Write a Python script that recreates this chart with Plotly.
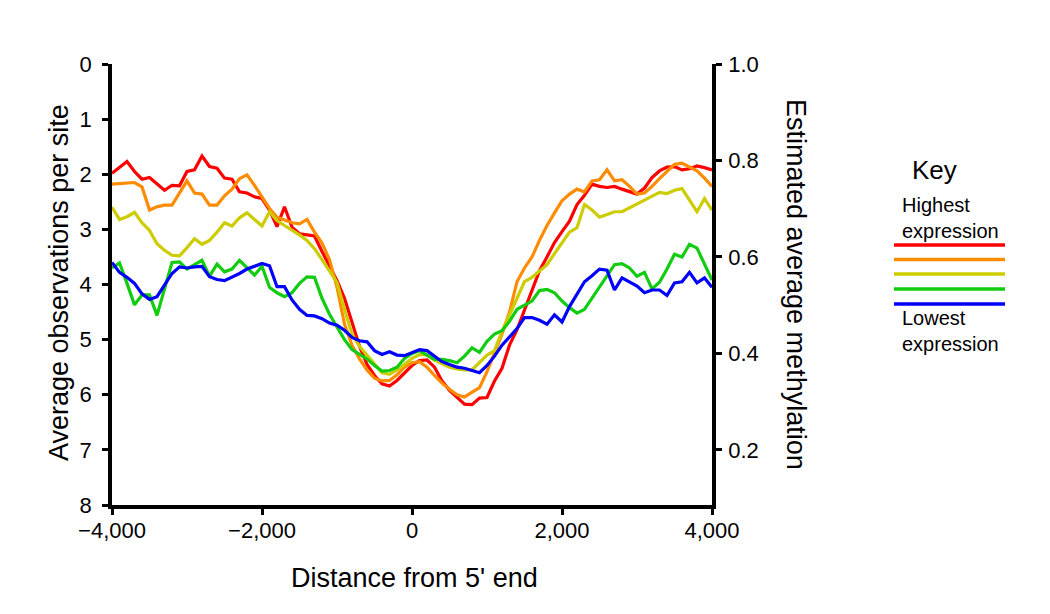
import plotly.graph_objects as go

distance = list(range(-4000, 4001, 100))

highest = [1.98, 1.87, 1.77, 1.95, 2.09, 2.06, 2.18, 2.29, 2.20, 2.21,
           1.95, 1.92, 1.67, 1.86, 1.89, 2.07, 2.09, 2.32, 2.34, 2.41,
           2.44, 2.65, 2.95, 2.59, 2.96, 3.08, 3.10, 3.12, 3.40, 3.68,
           3.93, 4.25, 4.70, 5.12, 5.45, 5.65, 5.80, 5.84, 5.74, 5.60,
           5.47, 5.38, 5.37, 5.50, 5.75, 5.92, 6.04, 6.17, 6.18, 6.06,
           6.05, 5.75, 5.52, 5.10, 4.82, 4.45, 4.08, 3.75, 3.50, 3.24,
           3.04, 2.85, 2.55, 2.38, 2.18, 2.22, 2.24, 2.22, 2.27, 2.31,
           2.36, 2.25, 2.06, 1.94, 1.87, 1.86, 1.92, 1.90, 1.85, 1.88,
           1.92]

high = [2.18, 2.17, 2.17, 2.15, 2.23, 2.65, 2.59, 2.56, 2.56, 2.33,
        2.12, 2.34, 2.36, 2.56, 2.56, 2.39, 2.27, 2.08, 2.01, 2.20,
        2.40, 2.62, 2.78, 2.83, 2.88, 2.90, 2.82, 3.05, 3.25, 3.55,
        4.05, 4.72, 5.10, 5.35, 5.55, 5.70, 5.75, 5.74, 5.64, 5.50,
        5.42, 5.40, 5.50, 5.65, 5.79, 5.90, 6.00, 6.04, 5.95, 5.87,
        5.58, 5.25, 4.90, 4.50, 3.95, 3.70, 3.50, 3.20, 2.93, 2.70,
        2.48, 2.36, 2.27, 2.32, 2.12, 2.10, 1.92, 2.12, 2.10, 2.22,
        2.36, 2.34, 2.22, 2.08, 1.94, 1.82, 1.80, 1.87, 1.94, 2.07,
        2.22]

middle = [2.60, 2.82, 2.77, 2.69, 2.88, 3.02, 3.26, 3.38, 3.47, 3.48,
          3.33, 3.17, 3.27, 3.20, 3.05, 2.88, 2.94, 2.79, 2.70, 2.83,
          2.94, 2.68, 2.84, 2.93, 3.01, 3.10, 3.20, 3.35, 3.55, 3.75,
          3.96, 4.45, 4.90, 5.12, 5.28, 5.45, 5.60, 5.63, 5.55, 5.45,
          5.34, 5.27, 5.28, 5.37, 5.43, 5.50, 5.53, 5.55, 5.55, 5.41,
          5.28, 5.20, 4.85, 4.55, 4.25, 3.95, 3.87, 3.75, 3.64, 3.44,
          3.25, 3.05, 2.97, 2.55, 2.65, 2.78, 2.73, 2.68, 2.68, 2.61,
          2.53, 2.47, 2.40, 2.33, 2.35, 2.29, 2.26, 2.48, 2.68, 2.44,
          2.65]

low = [3.70, 3.61, 3.98, 4.37, 4.19, 4.19, 4.56, 4.07, 3.60, 3.59,
       3.72, 3.64, 3.56, 3.85, 3.63, 3.77, 3.72, 3.56, 3.70, 3.83,
       3.67, 4.05, 4.15, 4.22, 4.15, 3.98, 3.86, 3.87, 4.25, 4.54,
       4.77, 5.00, 5.18, 5.26, 5.35, 5.47, 5.57, 5.56, 5.50, 5.34,
       5.25, 5.20, 5.28, 5.36, 5.36, 5.38, 5.42, 5.30, 5.15, 5.23,
       5.03, 4.90, 4.84, 4.67, 4.45, 4.38, 4.30, 4.11, 4.09, 4.15,
       4.30, 4.42, 4.52, 4.45, 4.25, 4.05, 3.85, 3.64, 3.62, 3.70,
       3.85, 3.78, 4.08, 3.96, 3.72, 3.45, 3.50, 3.27, 3.34, 3.62,
       3.92]

lowest = [3.60, 3.78, 3.87, 3.98, 4.17, 4.27, 4.22, 4.01, 3.80, 3.68,
          3.70, 3.68, 3.67, 3.86, 3.91, 3.93, 3.87, 3.80, 3.72, 3.67,
          3.62, 3.66, 4.04, 4.04, 4.28, 4.45, 4.56, 4.57, 4.62, 4.70,
          4.74, 4.83, 4.96, 5.02, 5.04, 5.20, 5.27, 5.22, 5.28, 5.29,
          5.24, 5.18, 5.20, 5.30, 5.40, 5.45, 5.50, 5.52, 5.56, 5.60,
          5.47, 5.30, 5.10, 4.95, 4.80, 4.60, 4.60, 4.65, 4.72, 4.55,
          4.68, 4.40, 4.18, 3.95, 3.84, 3.72, 3.74, 4.10, 3.88, 3.95,
          4.03, 4.15, 4.10, 4.10, 4.20, 3.97, 3.95, 3.78, 3.97, 3.88,
          4.05]

series = [highest, high, middle, low, lowest]
colors = ["#ff0000", "#ff8c00", "#cccc00", "#11cc11", "#0000ff"]

left_ticks = [0, 1, 2, 3, 4, 5, 6, 7, 8]
right_ticks = [0.2, 0.4, 0.6, 0.8, 1.0]
right_labels = ["0.2", "0.4", "0.6", "0.8", "1.0"]
x_ticks = [-4000, -2000, 0, 2000, 4000]
x_labels = ["\u22124,000", "\u22122,000", "0", "2,000", "4,000"]

FONT = "Liberation Sans, Arial, Helvetica, sans-serif"
OFF = 8  # page body margin
W, H = 1050 - OFF, 614 - OFF
L, R, T, B = 112, 712, 64, 505  # plot area in page pixels


def px(x):
    return (x - L) / (R - L)


def py(y):
    return (B - y) / (B - T)


fig = go.Figure()
for vals, c in zip(series, colors):
    fig.add_trace(go.Scatter(x=distance, y=vals, mode="lines",
                             line=dict(color=c, width=3.2),
                             showlegend=False, hoverinfo="skip"))
fig.add_trace(go.Scatter(x=[None], y=[None], yaxis="y2", showlegend=False,
                         hoverinfo="skip"))

axis_common = dict(showline=True, linecolor="black", linewidth=3.5,
                   ticks="outside", ticklen=6, tickwidth=3, tickcolor="black",
                   showgrid=False, zeroline=False,
                   tickfont=dict(family=FONT, size=22, color="black"))

fig.update_layout(
    width=W, height=H,
    margin=dict(l=L - OFF, r=1050 - R, t=T - OFF, b=614 - B, pad=0),
    paper_bgcolor="white", plot_bgcolor="white",
    xaxis=dict(range=[-4000, 4000], tickvals=x_ticks, ticktext=x_labels,
               ticklabelstandoff=-3, **axis_common),
    yaxis=dict(range=[8, 0], tickvals=left_ticks,
               ticktext=[str(v) for v in left_ticks], ticklabelstandoff=6,
               **axis_common),
    yaxis2=dict(range=[1 - 8 * 0.8 / 7, 1.0], overlaying="y", side="right",
                tickvals=right_ticks, ticktext=right_labels,
                ticklabelstandoff=2, **axis_common),
)

tfont = dict(family=FONT, size=27, color="black")
kfont = dict(family=FONT, size=20, color="black")
ann = [
    dict(text="Average observations per site", x=px(59), y=py(283),
         textangle=-90, font=tfont),
    dict(text="Estimated average methylation", x=px(796), y=py(285),
         textangle=90, font=tfont),
    dict(text="Distance from 5' end", x=px(414), y=py(578), font=tfont),
    dict(text="Key", x=px(934), y=py(170), font=dict(family=FONT, size=26,
                                                       color="black")),
    dict(text="Highest<br>expression", x=px(900), y=py(218), xanchor="left",
         align="left", font=kfont),
    dict(text="Lowest<br>expression", x=px(900), y=py(331), xanchor="left",
         align="left", font=kfont),
]
for a in ann:
    a.setdefault("xanchor", "center")
    a.update(xref="paper", yref="paper", yanchor="middle", showarrow=False)
fig.update_layout(annotations=ann)

key_y = [245, 259.5, 274, 289, 304]
for yy, c in zip(key_y, colors):
    fig.add_shape(type="line", xref="paper", yref="paper",
                  x0=px(894), x1=px(1005), y0=py(yy), y1=py(yy),
                  line=dict(color=c, width=3.5))

fig.write_html("out.html")
